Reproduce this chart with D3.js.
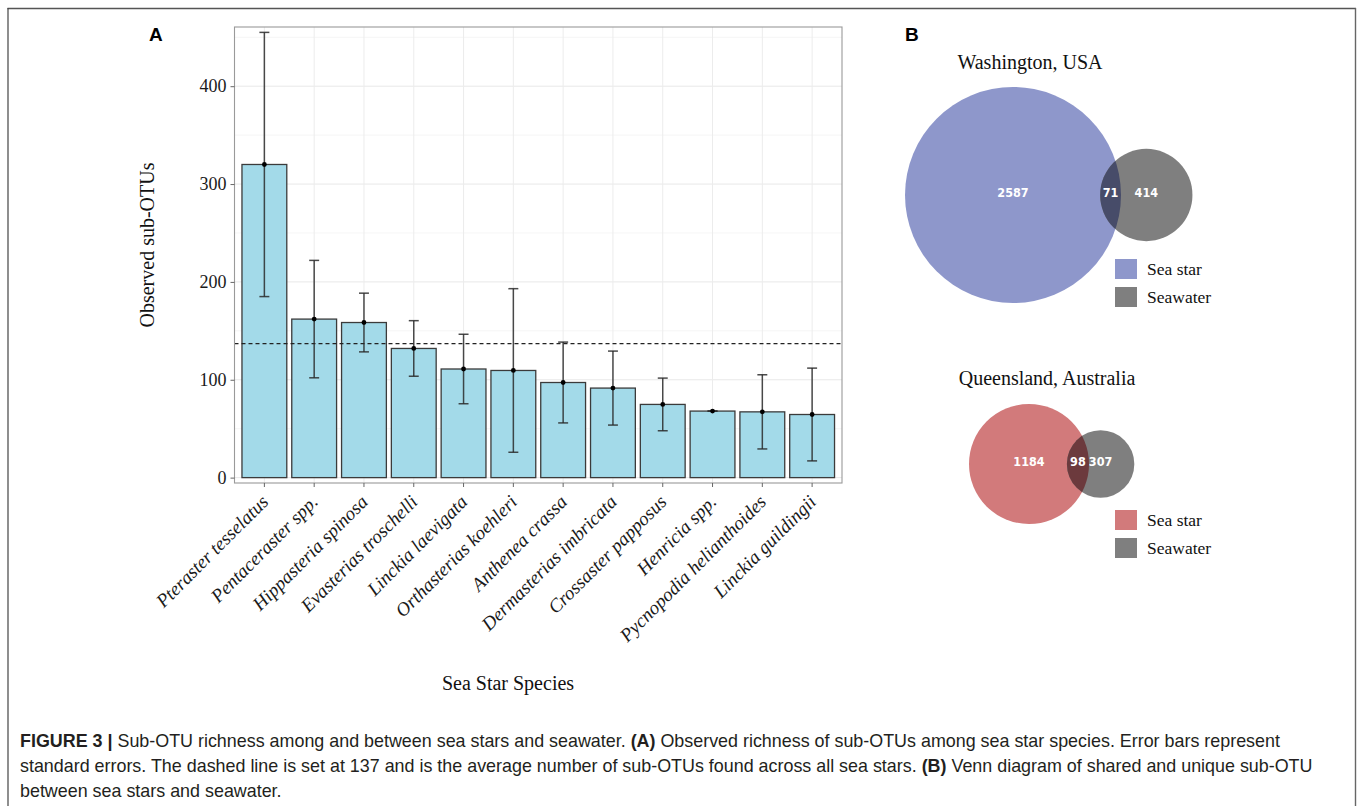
<!DOCTYPE html>
<html><head><meta charset="utf-8">
<script src="https://cdn.jsdelivr.net/npm/d3@7"></script>
<style>body{margin:0;background:#fff} svg{display:block}</style>
</head><body>
<svg id="fig" width="1357" height="806"></svg>
<script>
// ---------- data ----------
const species = ["Pteraster tesselatus","Pentaceraster spp.","Hippasteria spinosa","Evasterias troschelli",
  "Linckia laevigata","Orthasterias koehleri","Anthenea crassa","Dermasterias imbricata",
  "Crossaster papposus","Henricia spp.","Pycnopodia helianthoides","Linckia guildingii"];
const observed = [320, 162, 158.5, 132, 111, 109.5, 97.2, 91.5, 74.8, 68, 67.2, 64.5];
const stdErr   = [135, 60, 30, 28.4, 35.5, 83.6, 41.3, 37.8, 26.9, 0, 37.9, 47.4];
const meanLine = 137;
const yTicks = [0, 100, 200, 300, 400];
const yMinorTicks = [50, 150, 250, 350, 450];
const yDomain = [-5.5, 460.5];

const vennSites = ["Washington, USA", "Queensland, Australia"];
const seaStarOnly = [2587, 1184];
const sharedOTU = [71, 98];
const seawaterOnly = [414, 307];
const vennLegend = ["Sea star", "Seawater"];
const seaStarColors = ["#8e97cb", "#d27a7b"];
const overlapColors = ["#474c69", "#6c3a3d"];
const seawaterColor = "#7f7f7f";

const captionLines = [
  [["FIGURE 3 | ", true], ["Sub-OTU richness among and between sea stars and seawater. ", false], ["(A)", true], [" Observed richness of sub-OTUs among sea star species. Error bars represent", false]],
  [["standard errors. The dashed line is set at 137 and is the average number of sub-OTUs found across all sea stars. ", false], ["(B)", true], [" Venn diagram of shared and unique sub-OTU", false]],
  [["between sea stars and seawater.", false]]
];

// ---------- figure ----------
const svg = d3.select("#fig");
const serif = "'Liberation Serif','Times New Roman',serif";
const sans = "'Liberation Sans',Arial,sans-serif";

// outer frame
svg.append("line").attr("x1", 7.5).attr("x2", 1356).attr("y1", 8.5).attr("y2", 8.5).attr("stroke", "#555").attr("stroke-width", 1.6);
svg.append("line").attr("x1", 8).attr("x2", 8).attr("y1", 8).attr("y2", 806).attr("stroke", "#444").attr("stroke-width", 1.2);
svg.append("line").attr("x1", 1355.5).attr("x2", 1355.5).attr("y1", 8).attr("y2", 806).attr("stroke", "#666").attr("stroke-width", 1.4);

// ---------- panel A ----------
const P = {l: 234.5, r: 842, t: 27, b: 483};
const x = d3.scaleBand().domain(species).range([P.l, P.r]).paddingInner(0.1).paddingOuter(0.15).align(0.5);
const y = d3.scaleLinear().domain(yDomain).range([P.b, P.t]);

const gA = svg.append("g");
gA.append("rect").attr("x", P.l).attr("y", P.t).attr("width", P.r - P.l).attr("height", P.b - P.t).attr("fill", "#fff");
// grid
gA.selectAll(".ymin").data(yMinorTicks).join("line").attr("x1", P.l).attr("x2", P.r)
  .attr("y1", d => y(d)).attr("y2", d => y(d)).attr("stroke", "#f3f3f3").attr("stroke-width", 0.8);
gA.selectAll(".ymaj").data(yTicks).join("line").attr("x1", P.l).attr("x2", P.r)
  .attr("y1", d => y(d)).attr("y2", d => y(d)).attr("stroke", "#e8e8e8").attr("stroke-width", 1);
gA.selectAll(".xmaj").data(species).join("line").attr("y1", P.t).attr("y2", P.b)
  .attr("x1", d => x(d) + x.bandwidth() / 2).attr("x2", d => x(d) + x.bandwidth() / 2).attr("stroke", "#ececec").attr("stroke-width", 1);

// bars
gA.selectAll(".bar").data(species).join("rect")
  .attr("x", d => x(d)).attr("width", x.bandwidth())
  .attr("y", (d, i) => y(observed[i])).attr("height", (d, i) => y(0) - y(observed[i]))
  .attr("fill", "#a3dae9").attr("stroke", "#3b3b3b").attr("stroke-width", 1.3);

// mean dashed line
gA.append("line").attr("x1", P.l).attr("x2", P.r).attr("y1", y(meanLine)).attr("y2", y(meanLine))
  .attr("stroke", "#222").attr("stroke-width", 1.3).attr("stroke-dasharray", "4,3");

// error bars
const capW = x.step() * 0.1;
const eb = gA.selectAll(".eb").data(species).join("g").attr("transform", d => `translate(${x(d) + x.bandwidth() / 2},0)`);
eb.append("line").attr("y1", (d, i) => y(observed[i] + stdErr[i])).attr("y2", (d, i) => y(observed[i] - stdErr[i]))
  .attr("stroke", "#2a2a2a").attr("stroke-opacity", 0.85).attr("stroke-width", 1.5);
eb.append("line").attr("x1", -capW).attr("x2", capW).attr("y1", (d, i) => y(observed[i] + stdErr[i])).attr("y2", (d, i) => y(observed[i] + stdErr[i]))
  .attr("stroke", "#2a2a2a").attr("stroke-opacity", 0.85).attr("stroke-width", 1.5);
eb.append("line").attr("x1", -capW).attr("x2", capW).attr("y1", (d, i) => y(observed[i] - stdErr[i])).attr("y2", (d, i) => y(observed[i] - stdErr[i]))
  .attr("stroke", "#2a2a2a").attr("stroke-opacity", 0.85).attr("stroke-width", 1.5);
eb.append("circle").attr("cy", (d, i) => y(observed[i])).attr("r", 2.4).attr("fill", "#000");

// panel border
gA.append("rect").attr("x", P.l).attr("y", P.t).attr("width", P.r - P.l).attr("height", P.b - P.t)
  .attr("fill", "none").attr("stroke", "#9a9a9a").attr("stroke-width", 1.1);

// axes
const yAx = gA.append("g").attr("transform", `translate(${P.l},0)`)
  .call(d3.axisLeft(y).tickValues(yTicks).tickSize(4).tickPadding(4));
yAx.select(".domain").remove();
yAx.selectAll("line").attr("stroke", "#666");
yAx.selectAll("text").attr("font-family", serif).attr("font-size", 18).attr("fill", "#1a1a1a");

const xAx = gA.append("g").attr("transform", `translate(0,${P.b})`)
  .call(d3.axisBottom(x).tickSize(4));
xAx.select(".domain").remove();
xAx.selectAll("line").attr("stroke", "#666");
xAx.selectAll("text").attr("y", null).attr("dy", null)
  .attr("transform", "translate(5,20) rotate(-45)").attr("text-anchor", "end")
  .attr("font-family", serif).attr("font-style", "italic").attr("font-size", 19).attr("fill", "#1a1a1a");

gA.append("text").attr("transform", `translate(154,245) rotate(-90)`).attr("text-anchor", "middle")
  .attr("font-family", serif).attr("font-size", 20).attr("fill", "#111").text("Observed sub-OTUs");
gA.append("text").attr("x", 508).attr("y", 690).attr("text-anchor", "middle")
  .attr("font-family", serif).attr("font-size", 20).attr("fill", "#111").text("Sea Star Species");

svg.append("text").attr("x", 149).attr("y", 41).attr("font-family", sans).attr("font-weight", "bold").attr("font-size", 19).text("A");
svg.append("text").attr("x", 905).attr("y", 41).attr("font-family", sans).attr("font-weight", "bold").attr("font-size", 19).text("B");

// ---------- panel B : Venn ----------
function lensArea(r1, r2, d) {
  if (d >= r1 + r2) return 0;
  if (d <= Math.abs(r1 - r2)) return Math.PI * Math.min(r1, r2) ** 2;
  const a1 = Math.acos((d * d + r1 * r1 - r2 * r2) / (2 * d * r1));
  const a2 = Math.acos((d * d + r2 * r2 - r1 * r1) / (2 * d * r2));
  return r1 * r1 * (a1 - Math.sin(2 * a1) / 2) + r2 * r2 * (a2 - Math.sin(2 * a2) / 2);
}
const vennLayout = [
  {cx: 1013, cy: 195, bigR: 108, titleX: 1030, titleY: 69, legY: 259},
  {cx: 1029, cy: 464, bigR: 60, titleX: 1047, titleY: 385, legY: 510}
];
const defs = svg.append("defs");
vennSites.forEach((site, i) => {
  const L = vennLayout[i];
  const starTotal = seaStarOnly[i] + sharedOTU[i];
  const waterTotal = seawaterOnly[i] + sharedOTU[i];
  const rs = d3.scaleSqrt().domain([0, starTotal]).range([0, L.bigR]);
  const r1 = rs(starTotal), r2 = rs(waterTotal);
  const pxPerUnit = Math.PI * r1 * r1 / starTotal;
  const target = sharedOTU[i] * pxPerUnit;
  let lo = Math.abs(r1 - r2), hi = r1 + r2;
  for (let k = 0; k < 60; k++) { const m = (lo + hi) / 2; if (lensArea(r1, r2, m) > target) lo = m; else hi = m; }
  const d = (lo + hi) / 2;
  const c2x = L.cx + d;
  const g = svg.append("g");
  g.append("text").attr("x", L.titleX).attr("y", L.titleY).attr("text-anchor", "middle")
    .attr("font-family", serif).attr("font-size", 20).attr("fill", "#111").text(site);
  g.append("circle").attr("cx", L.cx).attr("cy", L.cy).attr("r", r1).attr("fill", seaStarColors[i]);
  g.append("circle").attr("cx", c2x).attr("cy", L.cy).attr("r", r2).attr("fill", seawaterColor);
  const cid = "clip" + i;
  defs.append("clipPath").attr("id", cid).append("circle").attr("cx", L.cx).attr("cy", L.cy).attr("r", r1);
  g.append("circle").attr("cx", c2x).attr("cy", L.cy).attr("r", r2).attr("fill", overlapColors[i]).attr("clip-path", `url(#${cid})`);
  const lensMid = ((c2x - r2) + (L.cx + r1)) / 2;
  const lab = [[L.cx, seaStarOnly[i]], [lensMid, sharedOTU[i]], [c2x, seawaterOnly[i]]];
  g.selectAll(".vl").data(lab).join("text").attr("x", dd => dd[0]).attr("y", L.cy - 2)
    .attr("text-anchor", "middle").attr("dominant-baseline", "middle")
    .attr("font-family", "'Liberation Sans Narrow','DejaVu Sans Condensed',sans-serif").attr("font-weight", "bold")
    .attr("font-size", 12.5).attr("fill", "#fff").text(dd => dd[1]);
  const lg = g.selectAll(".lg").data(vennLegend).join("g").attr("transform", (dd, j) => `translate(1115,${L.legY + j * 28})`);
  lg.append("rect").attr("width", 22).attr("height", 20).attr("fill", (dd, j) => j === 0 ? seaStarColors[i] : seawaterColor);
  lg.append("text").attr("x", 32).attr("y", 16).attr("font-family", serif).attr("font-size", 17.5).attr("fill", "#111").text(dd => dd);
});

// ---------- caption ----------
captionLines.forEach((parts, li) => {
  const t = svg.append("text").attr("x", 20).attr("y", 747 + li * 25).attr("font-family", sans).attr("font-size", 17.9).attr("fill", "#231f20");
  parts.forEach(p => t.append("tspan").attr("font-weight", p[1] ? "bold" : "normal").text(p[0]));
});
</script>
</body></html>
